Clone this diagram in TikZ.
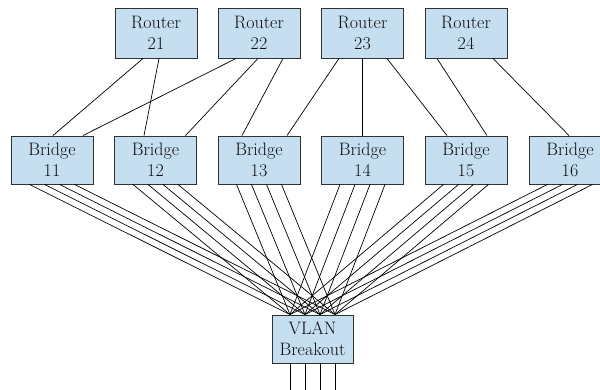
\documentclass[tikz,border=0pt]{standalone}
\definecolor{boxfill}{RGB}{197,222,240}
\definecolor{boxline}{RGB}{50,50,50}
\definecolor{txt}{RGB}{15,15,15}
\begin{document}
\begin{tikzpicture}[x=1pt,y=1pt,
  netbox/.style={draw=boxline, line width=0.9pt, fill=boxfill, minimum width=82pt, inner sep=0pt,
    align=center, text=txt, font=\fontsize{18}{21}\selectfont},
  routerbox/.style={netbox, minimum height=50pt},
  bridgebox/.style={netbox, minimum height=48pt},
  link/.style={draw=black, line width=0.7pt}]
\useasboundingbox (0,0) rectangle (600,-390);
% routers
\node[routerbox] (r21) at (156,-33) {Router\\21};
\node[routerbox] (r22) at (259,-33) {Router\\22};
\node[routerbox] (r23) at (362.5,-33) {Router\\23};
\node[routerbox] (r24) at (466,-33) {Router\\24};
% bridges
\node[bridgebox] (b11) at (52,-160) {Bridge\\11};
\node[bridgebox] (b12) at (155.5,-160) {Bridge\\12};
\node[bridgebox] (b13) at (259,-160) {Bridge\\13};
\node[bridgebox] (b14) at (362.5,-160) {Bridge\\14};
\node[bridgebox] (b15) at (466,-160) {Bridge\\15};
\node[bridgebox] (b16) at (570,-160) {Bridge\\16};
% VLAN
\node[bridgebox, minimum width=81pt] (v) at (312.5,-339) {VLAN\\Breakout};
% router-bridge links
\draw[link] ([xshift=-13pt]r21.south) -- ([xshift=1pt]b11.north);
\draw[link] ([xshift=3pt]r21.south) -- ([xshift=-11.5pt]b12.north);
\draw[link] ([xshift=-23pt]r22.south) -- ([xshift=31pt]b11.north);
\draw[link] ([xshift=-1pt]r22.south) -- ([xshift=30pt]b12.north);
\draw[link] ([xshift=24pt]r22.south) -- ([xshift=-17pt]b13.north);
\draw[link] ([xshift=-23.5pt]r23.south) -- ([xshift=28pt]b13.north);
\draw[link] (r23.south) -- (b14.north);
\draw[link] ([xshift=24.5pt]r23.south) -- ([xshift=-19pt]b15.north);
\draw[link] ([xshift=-29pt]r24.south) -- ([xshift=21pt]b15.north);
\draw[link] ([xshift=27pt]r24.south) -- ([xshift=-1pt]b16.north);
% bridge-VLAN links
\foreach \b in {b11,b12,b13,b14,b15,b16}{
  \foreach \o in {-22.5,-7.5,7.5,22.5}{
    \draw[link] ([xshift=\o pt]\b.south) -- ([xshift=\o pt]v.north);
  }
}
% breakout lines
\foreach \o in {-22.5,-7.5,7.5,22.5}{
  \draw[link] ([xshift=\o pt]v.south) -- ++(0,-30);
}
\end{tikzpicture}
\end{document}
